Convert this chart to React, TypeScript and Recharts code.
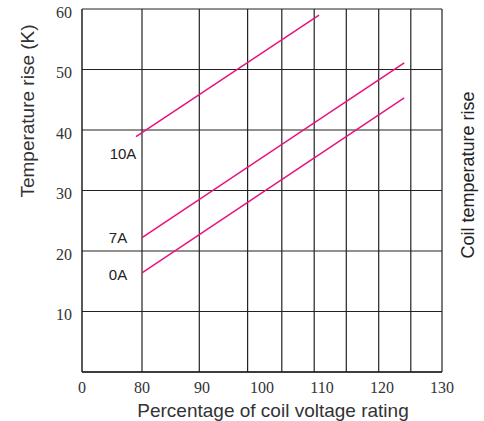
import React from 'react';
import { LineChart, Line, XAxis, YAxis, CartesianGrid, ReferenceLine, Label } from 'recharts';

// readings from the chart
const voltage10A = [79, 109.5];
const rise10A = [38.9, 59.0];
const voltage7A = [80, 123.7];
const rise7A = [22.2, 51.1];
const voltage0A = [80, 123.7];
const rise0A = [16.4, 45.3];

const xTicks = [70, 80, 90, 100, 110, 120, 130];
const yTicks = [10, 20, 30, 40, 50, 60];
// vertical grid lines are not evenly spaced in the original
const gridVoltages = [80, 89.55, 97.6, 103.3, 108.7, 114.05, 119.45, 124.8, 130];

const toPoints = (xs: number[], ys: number[]) => xs.map((x, i) => ({ x, y: ys[i] }));

const series = [
  { name: '10A', data: toPoints(voltage10A, rise10A), dx: -13, dy: 17 },
  { name: '7A', data: toPoints(voltage7A, rise7A), dx: -24, dy: 0 },
  { name: '0A', data: toPoints(voltage0A, rise0A), dx: -24, dy: 2 },
];

const LINE = '#e8127f';
const INK = '#222';
const SANS = '"Liberation Sans", Arial, sans-serif';
const SERIF = '"Liberation Serif", "Times New Roman", serif';

const tickStyle = { fontFamily: SERIF, fontSize: 16, fill: '#333' };

const startLabel = (text: string, dx: number, dy: number) => (props: any) => {
  if (props.index !== 0) return <g />;
  return (
    <text
      x={props.x + dx}
      y={props.y + dy}
      textAnchor="middle"
      dominantBaseline="central"
      fontFamily={SANS}
      fontSize={15}
      fill="#222"
    >
      {text}
    </text>
  );
};

export default function App() {
  return (
    <div style={{ position: 'absolute', left: 0, top: 0, width: 484, height: 421, background: '#fff' }}>
      <LineChart width={484} height={421} margin={{ top: 9, right: 42, bottom: 0, left: 0 }}>
        <CartesianGrid vertical={false} stroke={INK} strokeWidth={1.2} />
        {gridVoltages.map((v) => (
          <ReferenceLine key={v} x={v} stroke={INK} strokeWidth={1.2} ifOverflow="visible" />
        ))}
        <XAxis
          type="number"
          dataKey="x"
          domain={[70, 130]}
          ticks={xTicks}
          tickFormatter={(v: number) => (v === 70 ? '0' : String(v))}
          tick={{ ...tickStyle, dy: 2 }}
          tickLine={false}
          axisLine={{ stroke: INK, strokeWidth: 1.5 }}
          height={49}
          interval={0}
          allowDataOverflow
        >
          <Label
            content={() => (
              <text x={273} y={410} textAnchor="middle" dominantBaseline="central" fontFamily={SANS} fontSize={19} fill="#333">
                Percentage of coil voltage rating
              </text>
            )}
          />
        </XAxis>
        <YAxis
          type="number"
          domain={[0, 60]}
          ticks={yTicks}
          tick={{ ...tickStyle, dy: 3 }}
          tickLine={false}
          tickMargin={4}
          axisLine={{ stroke: INK, strokeWidth: 1.5 }}
          width={82}
          interval={0}
        >
          <Label
            content={() => (
              <g>
                <text
                  x={27}
                  y={111}
                  transform="rotate(-90, 27, 111)"
                  textAnchor="middle"
                  dominantBaseline="central"
                  fontFamily={SANS}
                  fontSize={19}
                  fill="#333"
                >
                  Temperature rise (K)
                </text>
                <text
                  x={468}
                  y={175}
                  transform="rotate(-90, 468, 175)"
                  textAnchor="middle"
                  dominantBaseline="central"
                  fontFamily={SANS}
                  fontSize={18}
                  fill="#222"
                >
                  Coil temperature rise
                </text>
              </g>
            )}
          />
        </YAxis>
        {series.map((s) => (
          <Line
            key={s.name}
            data={s.data}
            dataKey="y"
            type="linear"
            stroke={LINE}
            strokeWidth={1.5}
            dot={false}
            activeDot={false}
            isAnimationActive={false}
            label={startLabel(s.name, s.dx, s.dy)}
          />
        ))}
      </LineChart>
    </div>
  );
}
